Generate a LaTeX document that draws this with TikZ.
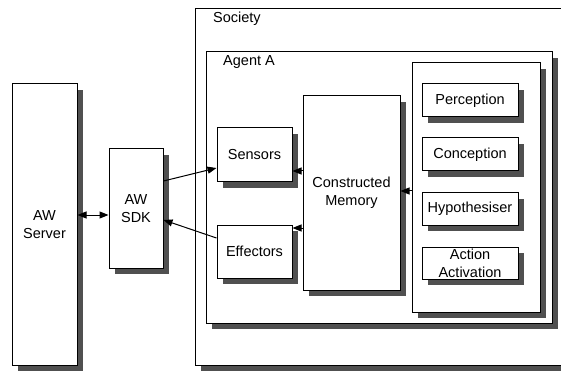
\documentclass[tikz,border=0pt]{standalone}
\usepackage{fontspec}
\setmainfont{Liberation Sans}
\usetikzlibrary{shadows,arrows.meta,calc}
\definecolor{shade}{HTML}{505050}
\begin{document}
\begin{tikzpicture}[x=1pt,y=-1pt,
  txt/.style={font=\fontsize{14.5}{18}\selectfont},
  box/.style={draw, fill=white, line width=1pt, inner sep=0pt, align=center, txt,
    drop shadow={shadow xshift=6pt, shadow yshift=-6pt, opacity=1, fill=shade}},
  arr/.style={line width=1pt, -{Triangle[length=9pt,width=7pt]}},
  darr/.style={line width=1pt, {Triangle[length=9pt,width=7pt]}-{Triangle[length=9pt,width=7pt]}}]
\useasboundingbox (0,0) rectangle (561,371);
\clip (0,0) rectangle (561,371);
% outer boxes
\node[box, minimum width=425pt, minimum height=356pt] (society) at (407.5,187) {};
\node[txt, anchor=west, inner sep=0pt] (soclabel) at (213,19) {Society};
\node[box, minimum width=346pt, minimum height=271pt] (agent) at (379,187.5) {};
\node[txt, anchor=west, inner sep=0pt] (agentlabel) at (223,62) {Agent A};
% left side
\node[box, minimum width=65pt, minimum height=281pt] (server) at (44.5,224.5) {AW\\Server};
\node[box, minimum width=54pt, minimum height=119pt] (sdk) at (136,208.5) {AW\\SDK};
% agent internals
\node[box, minimum width=75pt, minimum height=54pt] (sensors) at (254.5,155) {Sensors};
\node[box, minimum width=75pt, minimum height=53pt] (effectors) at (254.5,251.5) {Effectors};
\node[box, minimum width=97pt, minimum height=194pt] (cm) at (351.5,193) {Constructed\\Memory};
\node[box, minimum width=128pt, minimum height=249pt] (panel) at (476,187.5) {};
\node[box, minimum width=96pt, minimum height=33pt] (perception) at (470,100.5) {Perception};
\node[box, minimum width=96pt, minimum height=33pt] (conception) at (470,154.5) {Conception};
\node[box, minimum width=96pt, minimum height=32pt] (hypo) at (470,209) {Hypothesiser};
\node[box, minimum width=96pt, minimum height=32pt] (action) at (470,263) {Action\\Activation};
% connectors
\draw[darr] ([yshift=-6.5pt]sdk.west -| server.east) -- ([yshift=-6.5pt]sdk.west);
\draw[arr] ([yshift=27.5pt]sdk.east) -- ([yshift=-13pt]sensors.west);
\draw[arr] ([yshift=13.5pt]effectors.west) -- ([yshift=-11.5pt]sdk.east);
\draw[arr] ([yshift=-16pt]sensors.east -| cm.west) -- ([yshift=-16pt]sensors.east);
\draw[arr] ([yshift=23.5pt]effectors.east -| cm.west) -- ([yshift=23.5pt]effectors.east);
\draw[arr] ([yshift=2pt]cm.east -| panel.west) -- ([yshift=2pt]cm.east);
\end{tikzpicture}
\end{document}
